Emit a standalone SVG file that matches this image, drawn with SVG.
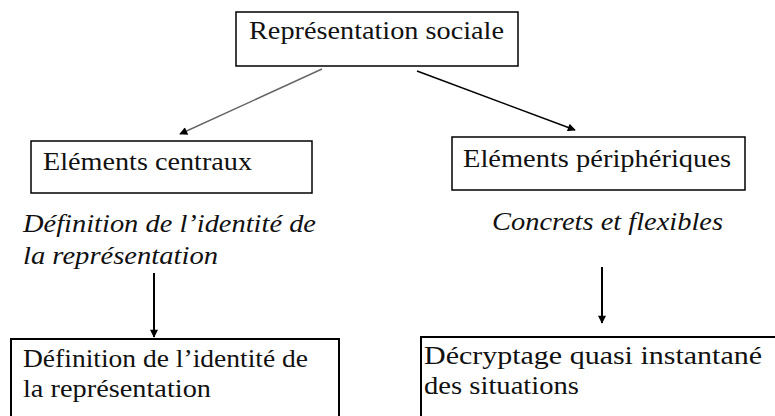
<svg xmlns="http://www.w3.org/2000/svg" width="775" height="416" viewBox="0 0 775 416">
<style>
  .box { fill: #fff; stroke: #000; stroke-width: 1.5; }
  .box2 { fill: #fff; stroke: #000; stroke-width: 2; }
  .ln { fill: none; }
  .lbl { font-family: "Liberation Serif", serif; font-size: 25px; fill: #111; }
</style>
<defs>
  <marker id="ah" viewBox="0 0 10 10" refX="9" refY="5" markerWidth="11" markerHeight="8" markerUnits="userSpaceOnUse" orient="auto">
    <path d="M0,0 L10,5 L0,10 z" fill="#000"/>
  </marker>
</defs>
<rect width="775" height="416" fill="#fff"/>
<g id="connectors">
  <line class="ln" x1="322" y1="69" x2="180" y2="134" stroke="#666" stroke-width="1.5" marker-end="url(#ah)"/>
  <line class="ln" x1="417" y1="71" x2="575" y2="130" stroke="#000" stroke-width="1.5" marker-end="url(#ah)"/>
  <line class="ln" x1="154" y1="273" x2="154" y2="337" stroke="#000" stroke-width="2" marker-end="url(#ah)"/>
  <line class="ln" x1="602" y1="267" x2="602" y2="323" stroke="#000" stroke-width="2" marker-end="url(#ah)"/>
</g>
<g id="root">
  <rect class="box" x="236" y="12" width="282" height="54"/>
  <text class="lbl" x="249" y="39" textLength="255" lengthAdjust="spacingAndGlyphs">Représentation sociale</text>
</g>
<g id="centraux">
  <rect class="box" x="31" y="141" width="281" height="52"/>
  <text class="lbl" x="43" y="170" textLength="209" lengthAdjust="spacingAndGlyphs">Eléments centraux</text>
</g>
<g id="peripheriques">
  <rect class="box" x="452" y="137" width="293" height="53"/>
  <text class="lbl" x="463" y="167" textLength="268" lengthAdjust="spacingAndGlyphs">Eléments périphériques</text>
</g>
<g id="label-centraux">
  <text class="lbl" font-style="italic" x="23" y="232" textLength="293" lengthAdjust="spacingAndGlyphs">Définition de l’identité de</text>
  <text class="lbl" font-style="italic" x="23" y="264" textLength="195" lengthAdjust="spacingAndGlyphs">la représentation</text>
</g>
<g id="label-peripheriques">
  <text class="lbl" font-style="italic" x="492" y="230" textLength="231" lengthAdjust="spacingAndGlyphs">Concrets et flexibles</text>
</g>
<g id="definition">
  <rect class="box2" x="11" y="339" width="328" height="90"/>
  <text class="lbl" x="23" y="367" textLength="285" lengthAdjust="spacingAndGlyphs">Définition de l’identité de</text>
  <text class="lbl" x="23" y="397" textLength="188" lengthAdjust="spacingAndGlyphs">la représentation</text>
</g>
<g id="decryptage">
  <rect class="box2" x="421" y="337" width="370" height="90"/>
  <text class="lbl" x="424" y="364" textLength="338" lengthAdjust="spacingAndGlyphs">Décryptage quasi instantané</text>
  <text class="lbl" x="424" y="394" textLength="155" lengthAdjust="spacingAndGlyphs">des situations</text>
</g>
</svg>
